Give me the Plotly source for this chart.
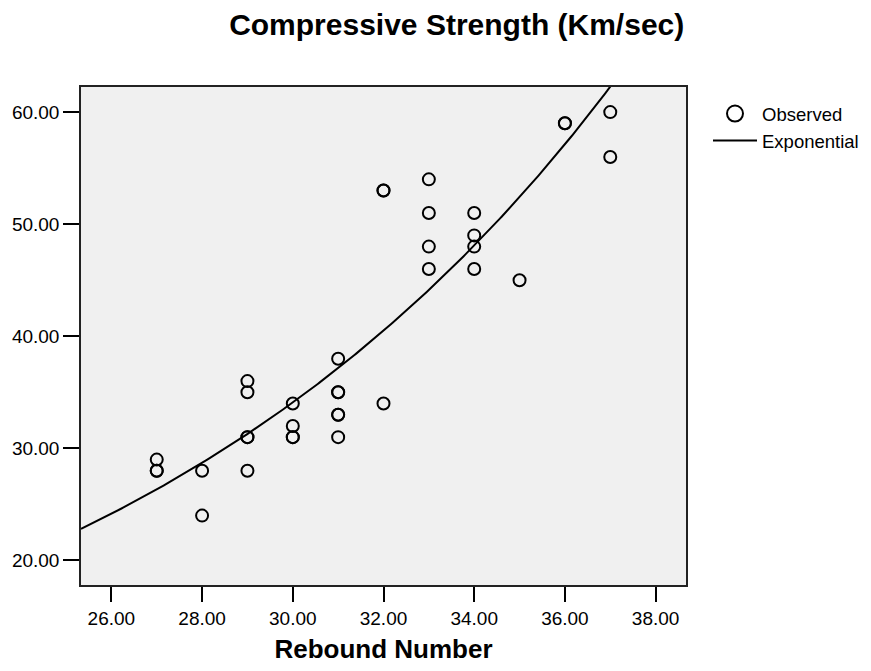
import numpy as np
import plotly.graph_objects as go

# Observed data (Rebound Number, Compressive Strength)
rebound = [27, 27, 27,
           28, 28,
           29, 29, 29, 29, 29,
           30, 30, 30, 30,
           31, 31, 31, 31, 31, 31,
           32, 32, 32,
           33, 33, 33, 33,
           34, 34, 34, 34,
           35,
           36, 36,
           37, 37]
strength = [29, 28, 28,
            28, 24,
            36, 35, 31, 31, 28,
            34, 32, 31, 31,
            38, 35, 35, 33, 33, 31,
            53, 53, 34,
            54, 51, 48, 46,
            51, 49, 48, 46,
            45,
            59, 59,
            60, 56]

x_ticks = [26, 28, 30, 32, 34, 36, 38]
y_ticks = [20, 30, 40, 50, 60]
x_range = [25.33, 38.67]
y_range = [17.81, 62.24]

# Exponential curve estimation: ln(y) = ln(a) + b*x
xv = np.array(rebound, dtype=float)
yv = np.array(strength, dtype=float)
b, ln_a = np.polyfit(xv, np.log(yv), 1)
xs = np.linspace(x_range[0], x_range[1], 300)
ys = np.exp(ln_a) * np.exp(b * xs)

FONT = "Liberation Sans, Arial, sans-serif"

fig = go.Figure()
fig.add_trace(go.Scatter(
    x=rebound, y=strength, mode="markers", showlegend=False,
    marker=dict(symbol="circle-open", size=12, color="black",
                line=dict(width=2, color="black")),
))
fig.add_trace(go.Scatter(
    x=xs, y=ys, mode="lines", showlegend=False,
    line=dict(color="black", width=2),
))
# legend entries
fig.add_trace(go.Scatter(
    x=[None], y=[None], mode="markers", name="Observed",
    marker=dict(symbol="circle-open", size=18, color="black",
                line=dict(width=2, color="black")),
))
fig.add_trace(go.Scatter(
    x=[None], y=[None], mode="lines", name="Exponential",
    line=dict(color="black", width=2),
))

fig.update_layout(
    width=871, height=671,
    margin=dict(l=79, r=185, t=87, b=83),
    paper_bgcolor="white", plot_bgcolor="#F0F0F0",
    font=dict(family=FONT, size=19, color="black"),
    title=dict(text="<b>Compressive Strength (Km/sec)</b>",
               font=dict(size=30, family=FONT, color="black"),
               x=456.7 / 871, xref="container", xanchor="center",
               y=1 - 24 / 671, yref="container", yanchor="middle"),
    legend=dict(x=708 / 871, xref="container", xanchor="left",
                y=1 - 95 / 671, yref="container", yanchor="top",
                font=dict(size=18.5, family=FONT, color="black"),
                bgcolor="rgba(0,0,0,0)", tracegroupgap=0,
                itemsizing="trace", itemwidth=44),
    xaxis=dict(range=x_range, tickvals=x_ticks, tickformat=".2f",
               ticks="outside", ticklen=15, tickwidth=2, tickcolor="black",
               showgrid=False, zeroline=False,
               showline=True, linecolor="#222", linewidth=1.5, mirror=True,
               tickfont=dict(size=19),
               title=dict(text="<b>Rebound Number</b>",
                          font=dict(size=26, family=FONT), standoff=12)),
    yaxis=dict(range=y_range, tickvals=y_ticks, tickformat=".2f",
               ticks="outside", ticklen=16, tickwidth=2, tickcolor="black",
               showgrid=False, zeroline=False,
               showline=True, linecolor="#222", linewidth=1.5, mirror=True,
               tickfont=dict(size=19)),
)

fig.write_html("out.html")
